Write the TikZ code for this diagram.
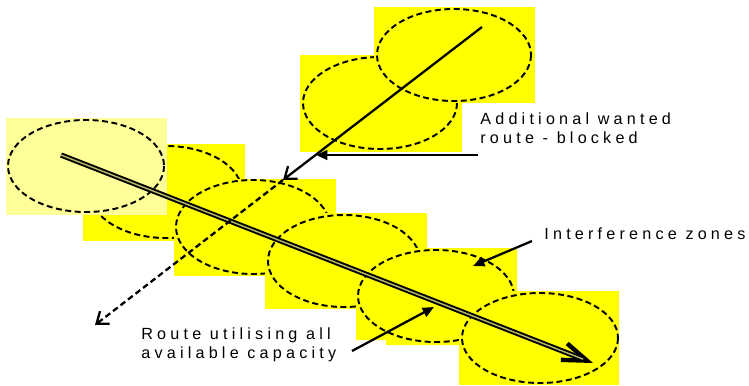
\documentclass[tikz,border=0pt]{standalone}
\usepackage{fontspec}
\setmainfont{Liberation Sans}
\newfontfamily\spacedfont[LetterSpace=26]{Liberation Sans}
\usepackage{xcolor}
\usepackage{tikz}
\usetikzlibrary{arrows.meta}

\definecolor{zoneyellow}{RGB}{255,255,0}
\definecolor{paleyellow}{RGB}{255,255,153}
\definecolor{gapgrey}{RGB}{185,185,110}

\tikzset{
  zone/.style={fill=zoneyellow},
  zonering/.style={draw, line width=1.1pt, dash pattern=on 3.4pt off 2pt},
  blockedroute/.style={line width=1.3pt, -{Straight Barb[length=6pt,width=9pt]}},
  pointer/.style={line width=1.3pt, -{Triangle[length=6.5pt,width=5.5pt]}},
  note/.style={anchor=base west, inner sep=0pt, align=left,
    font=\spacedfont\fontsize{9.2pt}{10.8pt}\selectfont}
}

\begin{document}
\begin{tikzpicture}[x=0.02cm, y=-0.02cm]
  \useasboundingbox (0,0) rectangle (749,385);

  % interference zones along the route
  \fill[zone] (83,144) rectangle (245,241);
  \draw[zonering] (166,192) ellipse (76 and 46);
  \fill[paleyellow] (6,118) rectangle (167,215);
  \draw[zonering] (86,166) ellipse (78 and 46);
  \fill[zone] (174,179) rectangle (336,276);
  \draw[zonering] (253,227) ellipse (77 and 47);
  \fill[zone] (265,213) rectangle (427,309);
  \draw[zonering] (344,261) ellipse (76 and 46);
  \fill[zone] (356,248) -- (517,248) -- (517,345) -- (386,345) -- (386,340) -- (356,340) -- cycle;
  \draw[zonering] (436,296) ellipse (78 and 46);
  \fill[zone] (459,291) rectangle (619,385);
  \draw[zonering] (540,338) ellipse (78 and 45);

  % zones of the blocked route
  \fill[zone] (300,55) rectangle (462,152);
  \draw[zonering] (380,103) ellipse (77 and 46);
  \fill[zone] (374,7) rectangle (535,103);
  \draw[zonering] (454,55) ellipse (77 and 46);

  % route using the capacity
  \coordinate (routeA) at (61,155);
  \coordinate (routeB) at (593,363);
  \draw[line width=3pt, -{Straight Barb[length=14pt,width=10pt,line width=2.5pt]}] (routeA) -- (routeB);
  \draw[gapgrey, line width=0.8pt, shorten >=6pt] (routeA) -- (routeB);

  % wanted route, blocked
  \coordinate (blockA) at (482,27);
  \coordinate (blockB) at (283,180);
  \coordinate (blockC) at (95,325);
  \draw[blockedroute] (blockA) -- (blockB);
  \draw[blockedroute, dash pattern=on 3.4pt off 2pt] (blockB) -- (blockC);

  % notes
  \node[note] (wanted) at (480,143) {Additional wanted\\route - blocked};
  \node[note] (zones) at (544,239) {Interference zones};
  \node[note] (capacity) at (141,358) {Route utilising all\\available capacity};

  \coordinate (wantedTail) at (478,155);
  \coordinate (wantedTip) at (316,155);
  \coordinate (zonesTail) at (532,241);
  \coordinate (zonesTip) at (473,266);
  \coordinate (capacityTail) at (352,351);
  \coordinate (capacityTip) at (434,307);
  \draw[pointer] (wantedTail) -- (wantedTip);
  \draw[pointer] (zonesTail) -- (zonesTip);
  \draw[pointer] (capacityTail) -- (capacityTip);
\end{tikzpicture}
\end{document}
